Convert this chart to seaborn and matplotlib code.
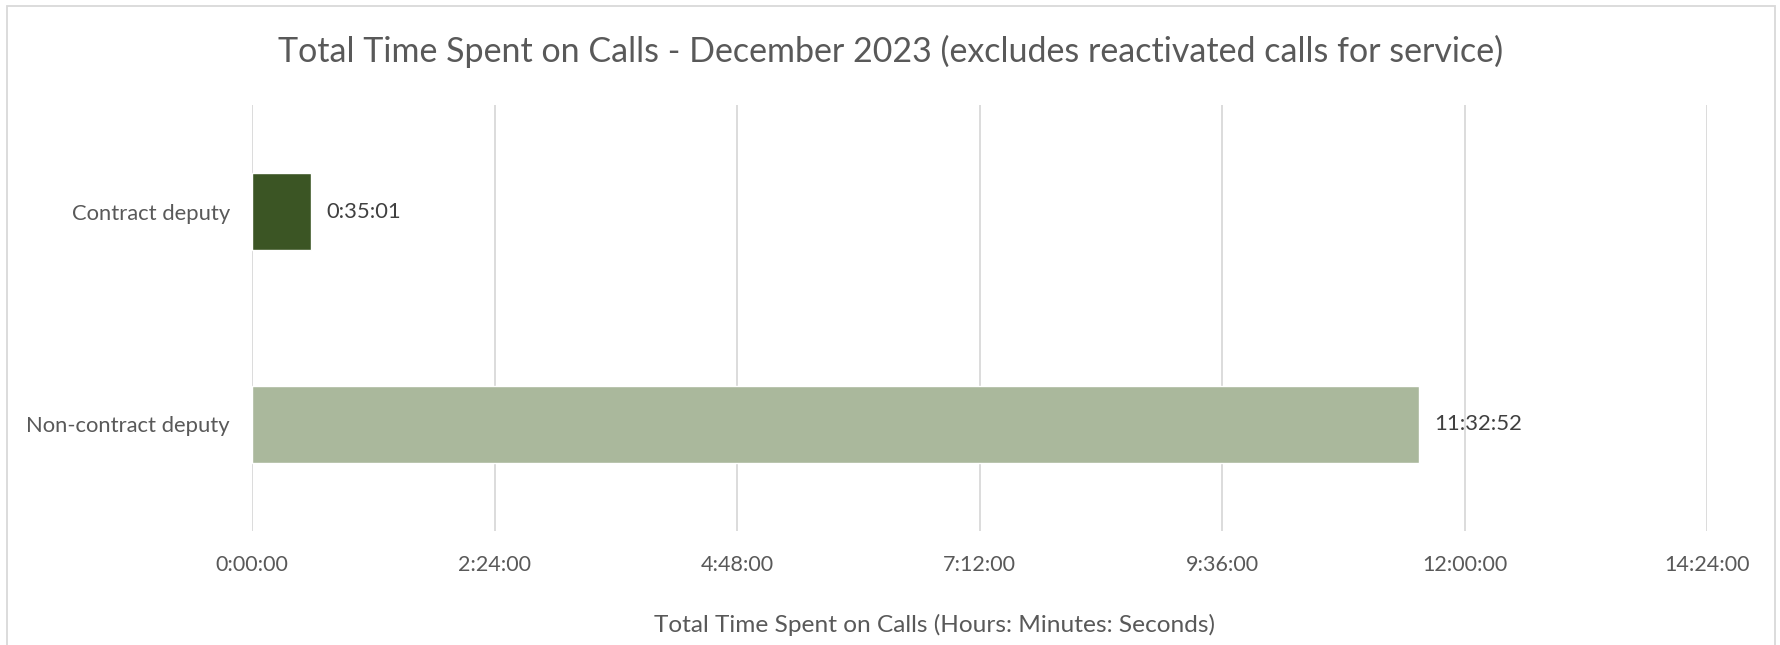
import matplotlib
matplotlib.use("Agg")
import matplotlib.pyplot as plt
import seaborn as sns
import pandas as pd
from matplotlib.patches import Rectangle
from matplotlib.ticker import FixedLocator

categories = ["Contract deputy", "Non-contract deputy"]
durations = ["0:35:01", "11:32:52"]
tick_labels = ["0:00:00", "2:24:00", "4:48:00", "7:12:00", "9:36:00", "12:00:00", "14:24:00"]
bar_colors = ["#3B5524", "#AAB89C"]

def to_hours(s):
    h, m, sec = [int(p) for p in s.split(":")]
    return h + m / 60 + sec / 3600

df = pd.DataFrame({"category": categories, "hours": [to_hours(d) for d in durations]})

sns.set_theme(style="white")
plt.rcParams["font.family"] = ["Lato", "DejaVu Sans"]

W, H = 1780, 645
fig = plt.figure(figsize=(W / 100, H / 100), dpi=100)
ax = fig.add_axes([252 / W, (H - 531) / H, 1455 / W, 426 / H])

sns.barplot(data=df, y="category", x="hours", hue="category", palette=bar_colors,
            orient="h", width=0.357, legend=False, ax=ax, saturation=1)

tick_vals = [to_hours(t) for t in tick_labels]
ax.set_xlim(0, tick_vals[-1])
ax.set_ylim(1.5, -0.5)
ax.xaxis.set_major_locator(FixedLocator(tick_vals))
ax.set_xticklabels(tick_labels)
ax.grid(axis="x", color="#D9D9D9", linewidth=1.3)
ax.set_axisbelow(True)
for s in ax.spines.values():
    s.set_visible(False)
ax.tick_params(axis="x", length=0, pad=17, labelsize=15.5, labelcolor="#595959")
ax.tick_params(axis="y", length=0, pad=16, labelsize=15.8, labelcolor="#595959")
ax.set_xlabel("")
ax.set_ylabel("")

for i, (v, lab) in enumerate(zip(df["hours"], durations)):
    ax.annotate(lab, xy=(v, i), xytext=(11, 0), textcoords="offset points",
                va="center", ha="left", fontsize=15.8, color="#404040")

fig.text(891 / W, 1 - 51 / H, "Total Time Spent on Calls - December 2023 (excludes reactivated calls for service)",
         ha="center", va="center", fontsize=24.5, color="#595959")
fig.text(934 / W, 1 - 625 / H, "Total Time Spent on Calls (Hours: Minutes: Seconds)",
         ha="center", va="center", fontsize=17.6, color="#595959")

fig.patches.append(Rectangle((7 / W, -0.1), (1775 - 7) / W, 1.1 - 6 / H,
                             transform=fig.transFigure, fill=False,
                             edgecolor="#D9D9D9", linewidth=1.3))

fig.savefig("out.png", dpi=100, facecolor="white")
